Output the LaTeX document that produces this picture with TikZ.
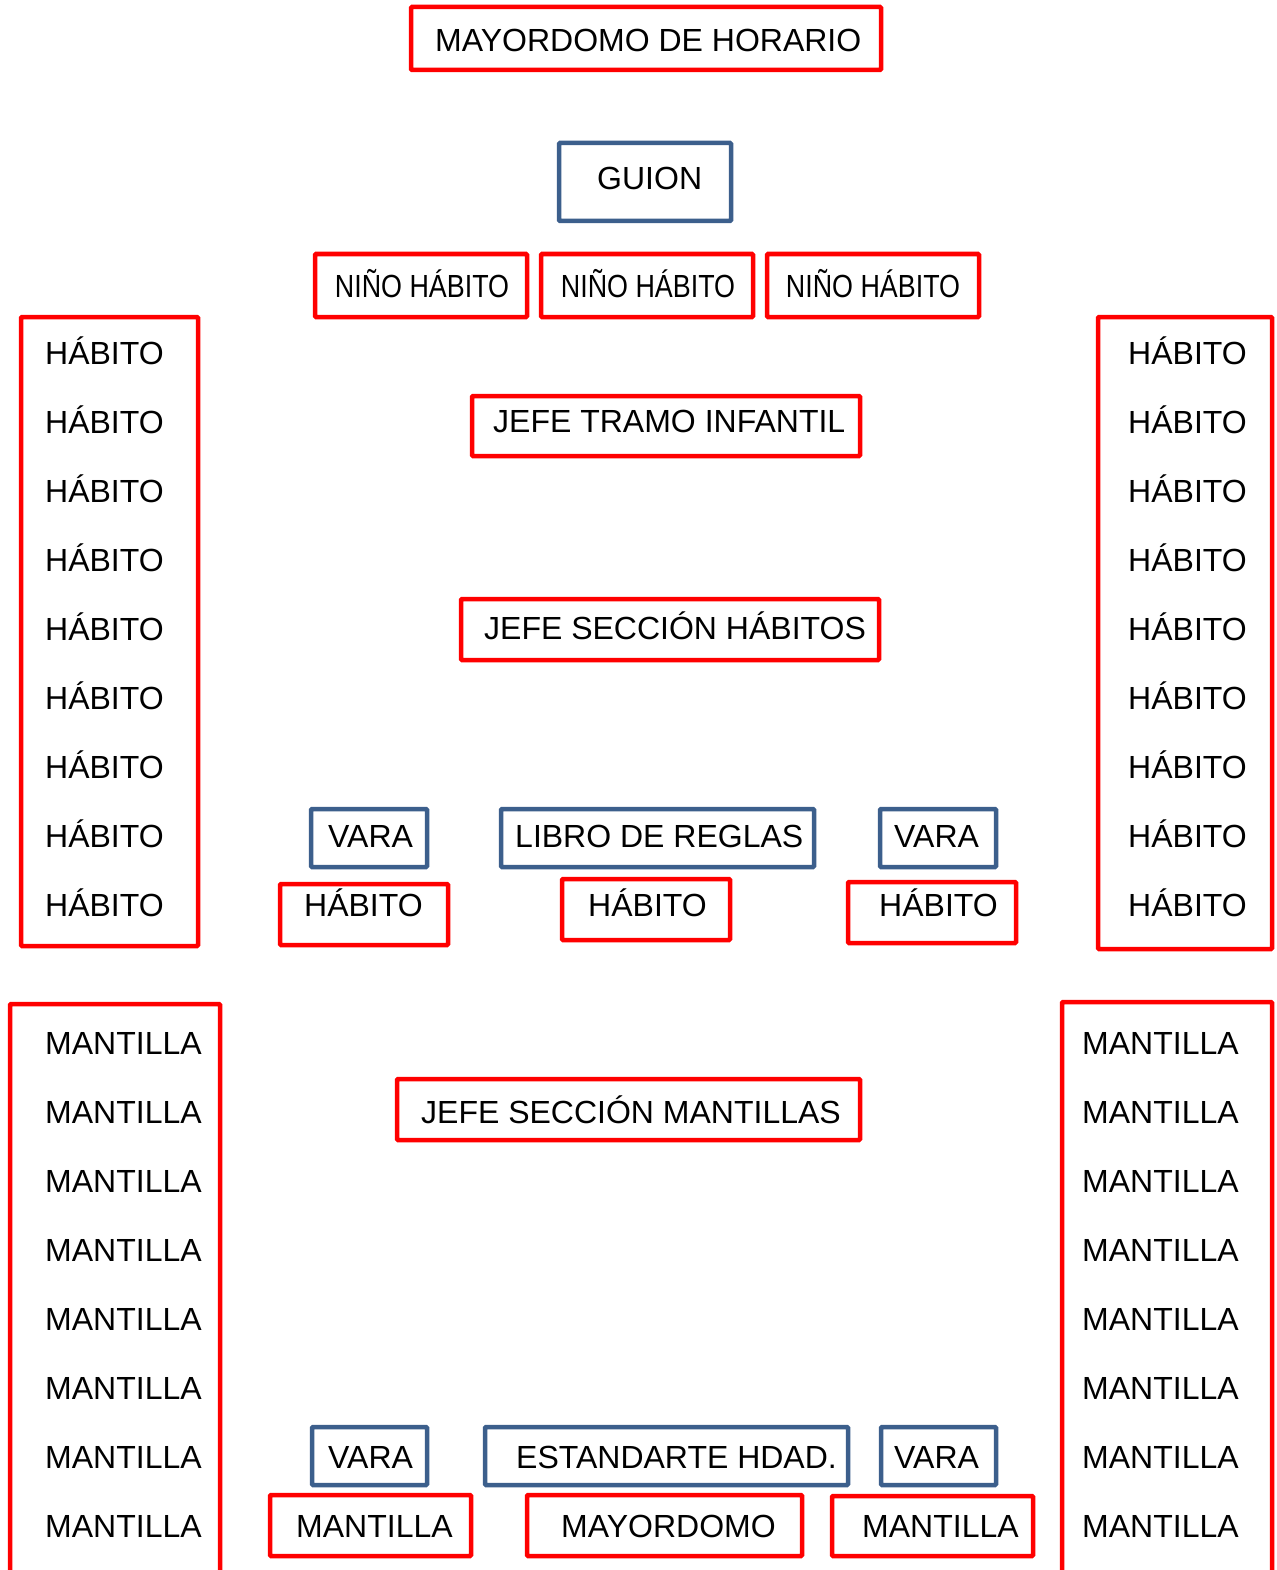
\documentclass[tikz,border=0pt]{standalone}
\usepackage{fontspec}
\setmainfont{Liberation Sans}
\newfontfamily\narrowfont[FakeStretch=0.84]{Liberation Sans}
\definecolor{boxred}{RGB}{255,0,0}
\definecolor{boxblue}{RGB}{60,95,140}
\tikzset{
  redbox/.style={draw=boxred, line width=4.5pt, rounded corners=1pt, inner sep=0pt, rectangle},
  bluebox/.style={draw=boxblue, line width=4.5pt, rounded corners=1pt, inner sep=0pt, rectangle},
  txt/.style={anchor=base west, inner sep=0pt, font=\fontsize{32}{36}\selectfont},
  ntxt/.style={anchor=base, inner sep=0pt, font=\fontsize{32}{36}\narrowfont},
}
% \bx{name}{style}{x1}{y1}{x2}{y2}
\newcommand\bx[6]{\node[#2, minimum width={(#5)-(#3)}, minimum height={(#6)-(#4)}] (#1) at ({((#3)+(#5))/2},{((#4)+(#6))/2}) {};}
\begin{document}
\begin{tikzpicture}[x=1pt,y=-1pt]
\useasboundingbox (0,0) rectangle (1276,1570);
\clip (0,0) rectangle (1276,1570);
\fill[white] (0,0) rectangle (1276,1570);

% top
\bx{mh}{redbox}{411}{7}{881}{70}
\node[txt] (tmh) at (435,52) {MAYORDOMO DE HORARIO};
\bx{gu}{bluebox}{559}{143}{731}{221}
\node[txt] (tgu) at (597,190) {GUION};
\bx{n1}{redbox}{315}{254}{527}{317}
\bx{n2}{redbox}{541}{254}{753}{317}
\bx{n3}{redbox}{767}{254}{979}{317}
\node[ntxt] (tn1) at (422,297) {NIÑO HÁBITO};
\node[ntxt] (tn2) at (648,297) {NIÑO HÁBITO};
\node[ntxt] (tn3) at (873,297) {NIÑO HÁBITO};

\bx{jti}{redbox}{472}{396}{860}{456}
\node[txt] (tjti) at (493,432) {JEFE TRAMO INFANTIL};
\bx{jsh}{redbox}{461}{599}{879}{660}
\node[txt] (tjsh) at (484,639) {JEFE SECCIÓN HÁBITOS};

% habito columns
\bx{hcl}{redbox}{21}{317}{198}{946}
\bx{hcr}{redbox}{1098}{317}{1272}{949}
\foreach \k in {0,...,8}{
  \node[txt] (hl\k) at (45,{364+69*\k}) {HÁBITO};
  \node[txt] (hr\k) at (1128,{364+69*\k}) {HÁBITO};
}

% vara / libro
\bx{v1}{bluebox}{311}{809}{427}{867}
\node[txt] (tv1) at (328,847) {VARA};
\bx{lr}{bluebox}{501}{809}{814}{867}
\node[txt] (tlr) at (515,847) {LIBRO DE REGLAS};
\bx{v2}{bluebox}{880}{809}{996}{867}
\node[txt] (tv2) at (894,847) {VARA};
\bx{h1}{redbox}{280}{884}{448}{945}
\node[txt] (th1) at (304,916) {HÁBITO};
\bx{h2}{redbox}{562}{879}{730}{940}
\node[txt] (th2) at (588,916) {HÁBITO};
\bx{h3}{redbox}{848}{882}{1016}{943}
\node[txt] (th3) at (879,916) {HÁBITO};

% mantilla columns
\bx{mcl}{redbox}{10}{1004}{220}{1590}
\bx{mcr}{redbox}{1062}{1002}{1272}{1590}
\foreach \k in {0,...,7}{
  \node[txt] (ml\k) at (45,{1054+69*\k}) {MANTILLA};
  \node[txt] (mr\k) at (1082,{1054+69*\k}) {MANTILLA};
}
\bx{jsm}{redbox}{397}{1079}{860}{1140}
\node[txt] (tjsm) at (421,1123) {JEFE SECCIÓN MANTILLAS};

% bottom
\bx{v3}{bluebox}{312}{1427}{427}{1485}
\node[txt] (tv3) at (328,1468) {VARA};
\bx{es}{bluebox}{485}{1427}{848}{1485}
\node[txt] (tes) at (516,1468) {ESTANDARTE HDAD.};
\bx{v4}{bluebox}{881}{1427}{996}{1485}
\node[txt] (tv4) at (894,1468) {VARA};
\bx{m1}{redbox}{270}{1495}{471}{1556}
\node[txt] (tm1) at (296,1537) {MANTILLA};
\bx{my}{redbox}{527}{1495}{802}{1556}
\node[txt] (tmy) at (561,1537) {MAYORDOMO};
\bx{m2}{redbox}{832}{1496}{1033}{1556}
\node[txt] (tm2) at (862,1537) {MANTILLA};
\end{tikzpicture}
\end{document}
